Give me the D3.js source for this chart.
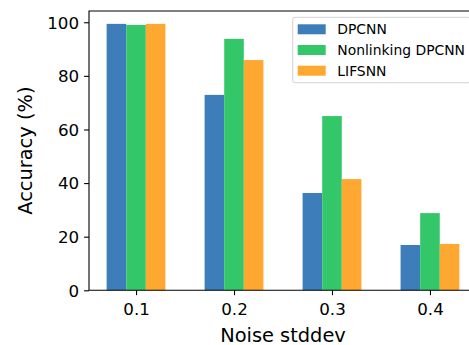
<!DOCTYPE html>
<html>
<head>
<meta charset="utf-8">
<script src="https://cdn.jsdelivr.net/npm/d3@7"></script>
<style>
  body { margin: 0; background: #fff; }
  text { font-family: "DejaVu Sans", sans-serif; fill: #000; }
</style>
</head>
<body>
<script>
const width = 469;
const height = 345;

// data
const noiseLabels = ['0.1', '0.2', '0.3', '0.4'];
const seriesNames = ['DPCNN', 'Nonlinking DPCNN', 'LIFSNN'];
const dpcnn = [99.4, 72.9, 36.3, 16.9];
const nonlinking = [99.0, 93.8, 65.0, 28.8];
const lifsnn = [99.4, 85.9, 41.5, 17.3];
const yTicks = [0, 20, 40, 60, 80, 100];

const colors = ['#3c7dba', '#33c76a', '#fea832'];
const seriesValues = [dpcnn, nonlinking, lifsnn];

const plot = { left: 89, right: 477, top: 11, bottom: 290.3 };
const barW = 0.2;

const svg = d3.select('body')
    .append('svg')
    .attr('width', width)
    .attr('height', height);

const xScale = d3.scaleLinear()
    .domain([-0.48, noiseLabels.length - 1 + 0.48])
    .range([plot.left, plot.right]);

const yScale = d3.scaleLinear()
    .domain([0, 104.2])
    .range([plot.bottom, plot.top]);

// bars
seriesValues.forEach((vals, s) => {
    svg.append('g')
        .selectAll('rect')
        .data(vals)
        .enter()
        .append('rect')
        .attr('x', (d, i) => xScale(i + (s - 1) * barW - barW / 2))
        .attr('width', xScale(barW) - xScale(0))
        .attr('y', d => yScale(d))
        .attr('height', d => yScale(0) - yScale(d))
        .attr('fill', colors[s]);
});

// y axis
const yAxis = svg.append('g')
    .attr('transform', `translate(${plot.left},0)`)
    .call(d3.axisLeft(yScale).tickValues(yTicks).tickSize(4.9).tickPadding(5));
yAxis.select('.domain').remove();
yAxis.selectAll('text').style('font-size', '16.7px').attr('dy', '0.35em');
yAxis.selectAll('line').attr('stroke', '#000').attr('stroke-width', 1.1);

// x axis
const xAxis = svg.append('g')
    .attr('transform', `translate(0,${plot.bottom})`)
    .call(d3.axisBottom(xScale)
        .tickValues(d3.range(noiseLabels.length))
        .tickFormat(i => noiseLabels[i])
        .tickSize(4.9).tickPadding(5));
xAxis.select('.domain').remove();
xAxis.selectAll('text').style('font-size', '16.7px').attr('dy', '0.9em');
xAxis.selectAll('line').attr('stroke', '#000').attr('stroke-width', 1.1);

// spines
svg.append('path')
    .attr('d', `M${plot.left},${plot.bottom}V${plot.top}H${plot.right}V${plot.bottom}Z`)
    .attr('fill', 'none')
    .attr('stroke', '#000')
    .attr('stroke-width', 1.1);

// axis labels
svg.append('text')
    .attr('x', (plot.left + plot.right) / 2)
    .attr('y', 341.5)
    .attr('text-anchor', 'middle')
    .style('font-size', '19.4px')
    .text('Noise stddev');

svg.append('text')
    .attr('transform', `translate(32,${(plot.top + plot.bottom) / 2}) rotate(-90)`)
    .attr('text-anchor', 'middle')
    .style('font-size', '19.4px')
    .text('Accuracy (%)');

// legend
const legend = svg.append('g').attr('transform', 'translate(292.7,17.3)');
legend.append('rect')
    .attr('width', 177.5)
    .attr('height', 65.4)
    .attr('rx', 2.5)
    .attr('fill', 'rgba(255,255,255,0.8)')
    .attr('stroke', '#d0d0d0')
    .attr('stroke-width', 1);

seriesNames.forEach((name, i) => {
    const cy = 12 + i * 20.7;
    legend.append('rect')
        .attr('x', 5)
        .attr('y', cy - 5)
        .attr('width', 28)
        .attr('height', 10)
        .attr('fill', colors[i]);
    legend.append('text')
        .attr('x', 44.6)
        .attr('y', cy + 5)
        .style('font-size', '13.9px')
        .text(name);
});
</script>
</body>
</html>
